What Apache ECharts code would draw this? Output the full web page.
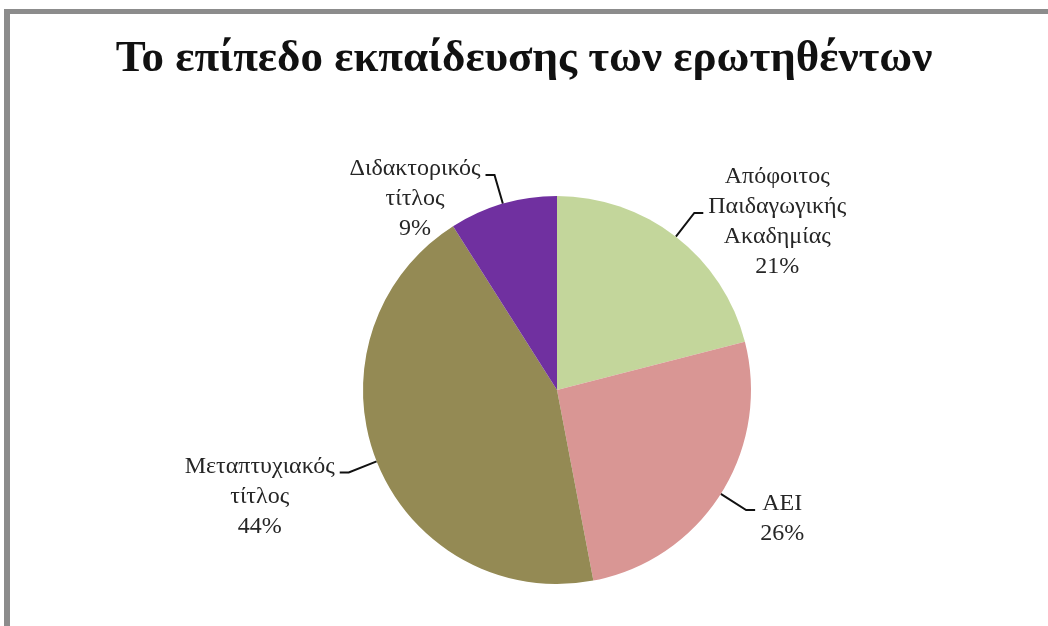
<!DOCTYPE html>
<html>
<head>
<meta charset="utf-8">
<script src="https://cdn.jsdelivr.net/npm/echarts@6/dist/echarts.min.js"></script>
<style>
  html, body { margin: 0; padding: 0; background: #fff; }
  #frame {
    position: absolute; left: 4px; top: 9px; width: 1100px; height: 700px;
    border-top: 5px solid #8c8c8c; border-left: 6px solid #8c8c8c;
  }
  #chart { position: absolute; left: 0; top: 0; width: 1048px; height: 626px; }
</style>
</head>
<body>
<div id="frame"></div>
<div id="chart"></div>
<script>
// Education level of the respondents
const categories = [
  'Απόφοιτος\nΠαιδαγωγικής\nΑκαδημίας',
  'ΑΕΙ',
  'Μεταπτυχιακός\nτίτλος',
  'Διδακτορικός\nτίτλος'
];
const values = [21, 26, 44, 9];
const colors = ['#c3d69b', '#d99694', '#948a54', '#7030a0'];

const serif = "'Liberation Serif', 'DejaVu Serif', serif";
const LINE_H = 30;

// Leader lines meet the label a little below the middle of one of its text
// lines: the second line for the first slice, the first line for the others.
// Top padding shifts the block so that point sits at the block's middle.
function anchorPadding(name, anchorIdx) {
  const lines = name.split('\n').length + 1;
  const top = lines * LINE_H - 2 * anchorIdx * LINE_H - LINE_H - 12;
  return [Math.max(0, top), 0, 0, 0];
}

const chart = echarts.init(document.getElementById('chart'), null, { renderer: 'canvas' });

chart.setOption({
  backgroundColor: 'transparent',
  animation: false,
  title: {
    text: 'Το επίπεδο εκπαίδευσης των ερωτηθέντων',
    left: 'center',
    top: 32,
    textStyle: { fontFamily: serif, fontWeight: 'bold', fontSize: 45, color: '#111' }
  },
  series: [{
    type: 'pie',
    center: [557, 390],
    radius: 194,
    startAngle: 90,
    clockwise: true,
    data: categories.map((name, i) => ({
      name,
      value: values[i],
      itemStyle: { color: colors[i] },
      label: { padding: anchorPadding(name, i === 0 ? 1 : 0) }
    })),
    label: {
      show: true,
      position: 'outside',
      formatter: p => p.name.split('\n').concat(p.percent + '%')
        .map(s => '{t|' + s + '}').join('\n'),
      rich: {
        t: { fontFamily: serif, fontSize: 24, lineHeight: LINE_H, color: '#262626', align: 'center' }
      }
    },
    labelLine: {
      show: true,
      length: 30,
      length2: 9,
      lineStyle: { color: '#111', width: 2 }
    }
  }]
});
</script>
</body>
</html>
